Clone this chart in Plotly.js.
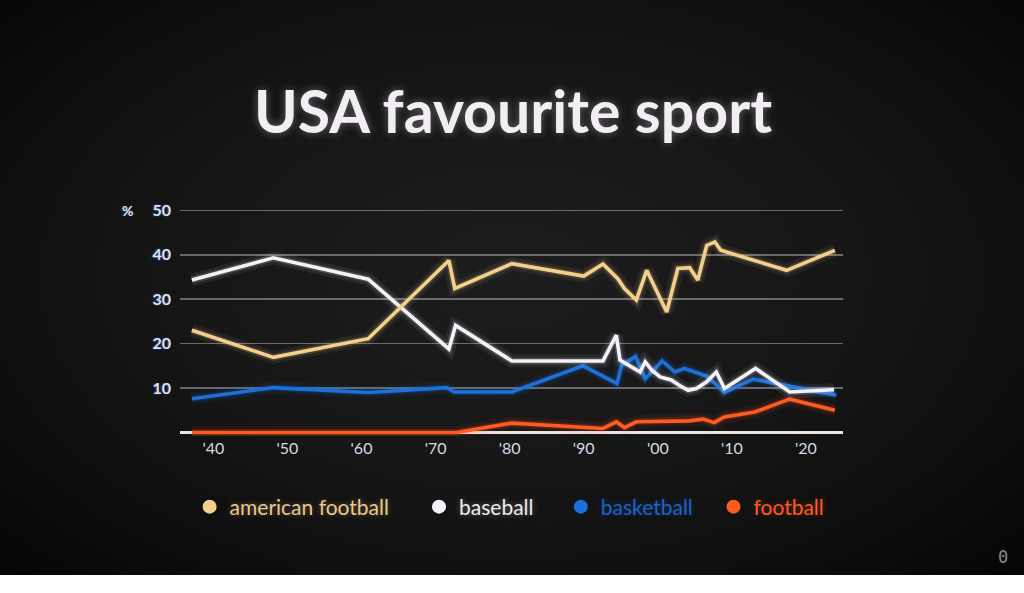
<!DOCTYPE html>
<html>
<head>
<meta charset="utf-8">
<script src="https://cdn.plot.ly/plotly-3.0.1.min.js"></script>
<style>
  html, body { margin: 0; padding: 0; background: #ffffff; }
  #chart {
    width: 1024px; height: 575px;
    background: radial-gradient(ellipse 70% 75% at 50% 48%, #1d1d1d 0%, #161616 45%, #0e0e0e 75%, #050505 100%);
  }
</style>
</head>
<body>
<div id="chart"></div>
<script>
// ---- data (x in years, y in %) ----
const seriesNames = ["american football", "baseball", "basketball", "football"];

const amFootballYears = [1937.1, 1948.1, 1960.9, 1971.8, 1972.6, 1980.3, 1990.0, 1992.6, 1994.6, 1995.5, 1997.1, 1998.5, 2001.2, 2002.7, 2004.3, 2005.4, 2006.6, 2007.7, 2008.5, 2017.4, 2023.9];
const amFootballPct   = [23.0, 16.9, 21.1, 38.7, 32.4, 38.0, 35.2, 37.9, 34.6, 32.4, 29.8, 36.5, 27.1, 36.9, 37.1, 34.3, 42.1, 42.9, 41.0, 36.5, 41.0];

const baseballYears = [1937.1, 1948.1, 1960.9, 1971.8, 1972.7, 1980.3, 1992.6, 1994.4, 1994.9, 1996.5, 1997.6, 1998.3, 1999.2, 2000.3, 2001.8, 2003.2, 2004.1, 2005.2, 2006.6, 2007.9, 2009.0, 2013.2, 2017.8, 2023.8];
const baseballPct   = [34.3, 39.3, 34.5, 18.8, 24.1, 16.1, 16.1, 21.9, 16.3, 14.8, 13.6, 15.9, 14.0, 12.5, 11.8, 10.3, 9.5, 9.9, 11.4, 13.6, 9.9, 14.4, 9.1, 9.6];

const basketballYears = [1937.1, 1948.1, 1960.9, 1971.5, 1972.5, 1980.3, 1989.9, 1994.5, 1995.1, 1997.0, 1998.3, 2000.6, 2002.3, 2003.6, 2006.6, 2009.0, 2012.9, 2017.4, 2024.1];
const basketballPct   = [7.6, 10.1, 9.0, 10.1, 9.1, 9.1, 15.0, 11.0, 15.1, 17.1, 12.1, 16.1, 13.6, 14.4, 12.7, 9.0, 12.0, 10.5, 8.4];

const footballYears = [1937.1, 1972.8, 1980.3, 1989.9, 1992.6, 1994.4, 1995.5, 1997.1, 2004.3, 2006.1, 2007.6, 2009.0, 2013.1, 2017.8, 2023.9];
const footballPct   = [0, 0, 2.1, 1.3, 0.9, 2.4, 1.1, 2.4, 2.6, 3.0, 2.2, 3.5, 4.6, 7.5, 5.0];

const xTickVals   = [1940, 1950, 1960, 1970, 1980, 1990, 2000, 2010, 2020];
const xTickLabels = ["'40", "'50", "'60", "'70", "'80", "'90", "'00", "'10", "'20"];
const yTickVals   = [10, 20, 30, 40, 50];
const yTickLabels = ["10", "20", "30", "40", "50"];

// ---- styling ----
const colors     = ["#f4d08f", "#f4f1f8", "#1d6fd9", "#ff5a22"];
const glowRGB    = ["244,208,143", "244,241,248", "29,111,217", "255,90,34"];
const textColors = ["#e9c98c", "#eeeaf2", "#1e63c4", "#ff5a22"];
const legendCx   = [211.6, 441, 582.8, 735.5];

const xs = [amFootballYears, baseballYears, basketballYears, footballYears];
const ys = [amFootballPct, baseballPct, basketballPct, footballPct];

const traces = [];
const drawOrder = [3, 2, 1, 0];
drawOrder.forEach(i => {
  traces.push({x: xs[i], y: ys[i], type: "scatter", mode: "lines", showlegend: false, hoverinfo: "skip",
    line: {color: "rgba(" + glowRGB[i] + ",0.07)", width: 13}});
  traces.push({x: xs[i], y: ys[i], type: "scatter", mode: "lines", showlegend: false, hoverinfo: "skip",
    line: {color: "rgba(" + glowRGB[i] + ",0.16)", width: 7}});
  traces.push({x: xs[i], y: ys[i], type: "scatter", mode: "lines", name: seriesNames[i], showlegend: false,
    line: {color: colors[i], width: 3.6}});
});
// legend entries (one legend per entry so each can be placed)
const legendIds = ["legend", "legend2", "legend3", "legend4"];
seriesNames.forEach((n, i) => {
  traces.push({x: [null], y: [null], type: "scatter", mode: "markers", name: n,
    legend: legendIds[i], showlegend: true,
    marker: {color: colors[i], size: 14, symbol: "circle"}});
});

const layout = {
  width: 1024, height: 575,
  margin: {l: 180, r: 181, t: 209, b: 139},
  paper_bgcolor: "rgba(0,0,0,0)",
  plot_bgcolor: "rgba(0,0,0,0)",
  title: {
    text: "USA favourite sport",
    x: 0.501, xref: "container", xanchor: "center",
    y: 1 - 112 / 575, yref: "container", yanchor: "middle",
    font: {family: "Lato", size: 59, weight: 700, color: "#f2eef4",
           shadow: "0px 0px 8px rgba(255,255,255,0.35)"}
  },
  xaxis: {
    range: [1935.5, 2025.0],
    tickvals: xTickVals, ticktext: xTickLabels,
    showgrid: false, zeroline: false, showline: false, ticks: "",
    ticklabelstandoff: 1,
    tickfont: {family: "Lato", size: 16, color: "#d9d9e2"}
  },
  yaxis: {
    range: [-0.8, 50.3],
    tickvals: yTickVals, ticktext: yTickLabels,
    showgrid: true, gridcolor: "rgba(175,175,180,0.55)", gridwidth: 1.5,
    zeroline: true, zerolinecolor: "#efe2e2", zerolinewidth: 2.5,
    showline: false, ticks: "",
    ticklabelstandoff: 8,
    tickfont: {family: "Lato", size: 16, weight: 700, color: "#dfe1ef",
               shadow: "-1px 0px 2px rgba(60,120,230,0.6)"}
  },
  annotations: [
    {text: "%", xref: "paper", yref: "y", x: (127 - 180) / 663, y: 50,
     xanchor: "center", yanchor: "middle", showarrow: false,
     font: {family: "Lato", size: 14, weight: 700, color: "#dfe1ef",
            shadow: "-1px 0px 2px rgba(60,120,230,0.6)"}},
    {text: "0", xref: "paper", yref: "paper", x: (1003 - 180) / 663, y: (436 - 557) / 227,
     xanchor: "center", yanchor: "middle", showarrow: false,
     font: {family: "DejaVu Sans Mono", size: 17, color: "#8c8c8c"}}
  ],
  showlegend: true
};

legendIds.forEach((id, i) => {
  layout[id] = {
    xref: "container", yref: "container",
    x: (legendCx[i] - 22) / 1024, y: 1 - 507 / 575,
    xanchor: "left", yanchor: "middle",
    orientation: "h", bgcolor: "rgba(0,0,0,0)", borderwidth: 0,
    font: {family: "Lato", size: 21, color: textColors[i],
           shadow: "0px 0px 6px rgba(" + glowRGB[i] + ",0.35)"}
  };
});

Plotly.newPlot("chart", traces, layout, {displayModeBar: false, staticPlot: true});
</script>
</body>
</html>
